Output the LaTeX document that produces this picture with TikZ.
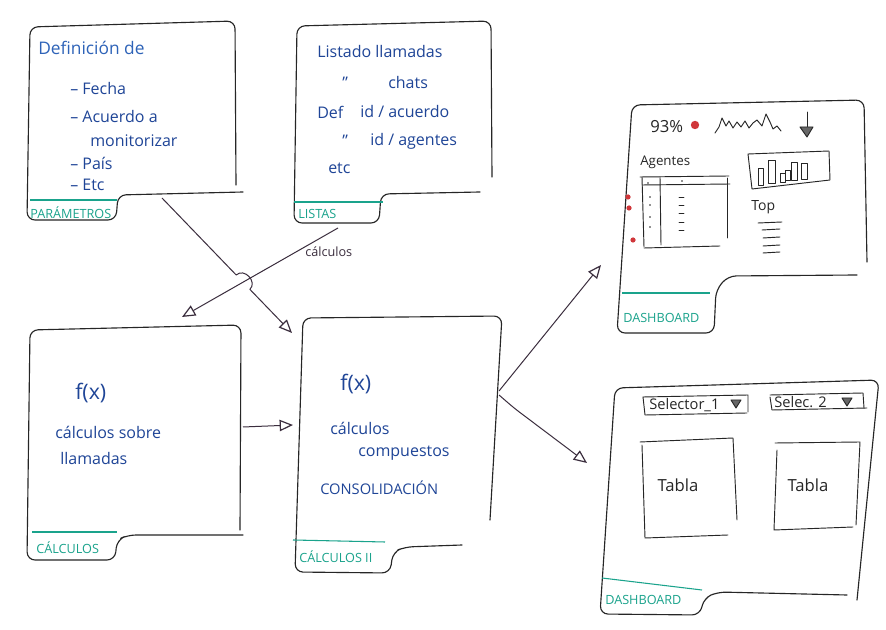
\documentclass[tikz,border=0pt]{standalone}
\usepackage{fontspec}
\setmainfont{Open Sans}
\usetikzlibrary{arrows.meta}
\definecolor{ink}{HTML}{262626}
\definecolor{blueink}{HTML}{1F4597}
\definecolor{blueinklight}{HTML}{2E63B8}
\definecolor{tealc}{HTML}{1AA38C}
\definecolor{arrowc}{HTML}{3B2E3E}
\definecolor{reddot}{HTML}{D0363A}
\begin{document}
\begin{tikzpicture}[x=0.75pt,y=-0.75pt,
  box/.style={draw=ink,line width=0.85pt,line cap=round,line join=round,rounded corners=6pt},
  tabline/.style={draw=tealc,line width=0.8pt},
  tablbl/.style={text=tealc,font=\fontsize{9.5}{11}\selectfont,anchor=west,inner sep=0pt},
  hand/.style={text=blueink,font=\fontsize{12}{14}\selectfont,anchor=west,inner sep=0pt},
  big/.style={font=\fontsize{16}{18}\selectfont},
  sk/.style={draw=ink,line width=0.7pt,line cap=round,line join=round},
  blk/.style={text=ink,anchor=west,inner sep=0pt},
  arr/.style={draw=arrowc,line width=0.75pt,line join=round,-{Triangle[open,length=10pt,width=8.5pt,line width=0.9pt]}},
  ]
\fill[white] (0,0) rectangle (886,630);
\useasboundingbox (0,0) rectangle (886,630);

% ---------- Box 1: PARAMETROS ----------
\draw[box] (236,185) -- (235,21) -- (30,27) -- (27,220) -- (116,220) -- (118,195) -- (243,192);
\draw[tabline] (30,200) -- (117,200);
\node[tablbl] (lparam) at (30,213) {PARÁMETROS};
\node[hand,font=\fontsize{13}{15}\selectfont,text=blueinklight] (pdef) at (38,48) {Definición de};
\node[hand] (pfecha) at (70,89) {– Fecha};
\node[hand] (pacu) at (70,117) {– Acuerdo a};
\node[hand] (pmon) at (90,141) {monitorizar};
\node[hand] (ppais) at (70,163) {– País};
\node[hand] (petc) at (70,185) {– Etc};

% ---------- Box 2: LISTAS ----------
\draw[box] (492,177) -- (491,21) -- (297,26) -- (294,223) -- (379,223) -- (381,194) -- (480,192);
\draw[tabline] (294,202) -- (383,202);
\node[tablbl] (llistas) at (298,214) {LISTAS};
\node[hand] (l1) at (317,52) {Listado llamadas};
\node[hand] (l2a) at (342,83) {”};
\node[hand] (l2b) at (388,83) {chats};
\node[hand] (l3a) at (317,112) {Def};
\node[hand] (l3b) at (360,112) {id / acuerdo};
\node[hand] (l4a) at (342,141) {”};
\node[hand] (l4b) at (370,141) {id / agentes};
\node[hand] (l5) at (328,168) {etc};

% ---------- Box 3: DASHBOARD 1 ----------
\draw[box] (867,262) -- (864,100) -- (632,105) -- (617,333) -- (714,333) -- (716,290) -- (728,276) -- (857,275);
\draw[tabline] (622,293) -- (710,293);
\node[tablbl] (ldash1) at (623,318) {DASHBOARD};
\node[blk,font=\fontsize{12.5}{14}\selectfont] (kpi) at (650,127) {93\%};
\fill[reddot] (695,125) circle (4.2);
\draw[sk] (715,133) -- (719,127) -- (722,118) -- (726,126) -- (729,121) -- (733,128) -- (737,122) -- (741,127) -- (745,121) -- (749,128) -- (753,123) -- (757,120) -- (762,126) -- (766,114) -- (770,122) -- (773,129) -- (777,126) -- (781,131);
\draw[sk] (807,112) -- (807,130);
\draw[sk,fill=ink!70] (800,127) -- (813,127) -- (807,137) -- cycle;
\node[blk,font=\fontsize{10}{12}\selectfont] (agentes) at (640,162) {Agentes};
\draw[sk] (640,177) -- (729,176);
\draw[sk] (642,185) -- (730,184);
\draw[sk] (642,177) -- (644,247);
\draw[sk] (660,177) -- (661,245);
\draw[sk] (727,178) -- (727,238);
\draw[sk] (644,248) -- (720,246);
\foreach \yy in {197,205,217,227} {\fill[ink] (650,\yy) circle (0.9);}
\fill[ink] (648,183) circle (0.9);
\fill[ink] (682,181) circle (0.9);
\foreach \yy in {197,205,213,222,230} {\draw[sk] (679,\yy) -- (684,\yy);}
\fill[reddot] (628,197) circle (2.6);
\fill[reddot] (629,208) circle (2.6);
\fill[reddot] (633,240) circle (2.6);
\draw[sk] (748,154) -- (829,151) -- (830,180) -- (752,189) -- cycle;
\draw[sk] (758,168) rectangle (763,185);
\draw[sk] (768,160) rectangle (775,183);
\draw[sk] (780,173) rectangle (785,182);
\draw[sk] (785,170) rectangle (790,180);
\draw[sk] (791,162) rectangle (797,180);
\draw[sk] (801,163) rectangle (807,179);
\node[blk,font=\fontsize{10.5}{12}\selectfont] (top) at (751,207) {Top};
\draw[sk] (758,223) -- (782,222);
\draw[sk] (762,230) -- (780,229);
\draw[sk] (763,238) -- (780,237);
\draw[sk] (763,246) -- (780,245);
\draw[sk] (763,253) -- (780,252);

% ---------- Box 4: DASHBOARD 2 ----------
\draw[box] (857,600) -- (879,380) -- (615,388) -- (600,614) -- (700,615) -- (704,598) -- (718,592) -- (847,595);
\draw[tabline] (602,578) -- (702,590);
\node[tablbl] (ldash2) at (605,600) {DASHBOARD};
\draw[sk] (643,397) -- (748,395) -- (748,412);
\draw[sk] (643,397) -- (645,415) -- (747,413);
\node[blk,font=\fontsize{11}{13}\selectfont] (sel1) at (649,405) {Selector\_1};
\draw[sk,fill=ink!70] (731,400) -- (741,400) -- (736,408) -- cycle;
\draw[sk] (770,395) -- (863,393) -- (864,408);
\draw[sk] (770,397) -- (772,410) -- (867,408);
\node[blk,font=\fontsize{11}{13}\selectfont] (sel2) at (774,402) {Selec. 2};
\draw[sk,fill=ink!70] (842,398) -- (852,398) -- (847,406) -- cycle;
\draw[sk] (640,442) -- (733,438) -- (737,520);
\draw[sk] (642,445) -- (645,538) -- (728,535);
\node[text=ink,font=\fontsize{12.5}{14}\selectfont,inner sep=0pt] (tab1) at (678,485) {Tabla};
\draw[sk] (775,443) -- (860,442) -- (856,525);
\draw[sk] (777,450) -- (774,530) -- (853,527);
\node[text=ink,font=\fontsize{12.5}{14}\selectfont,inner sep=0pt] (tab2) at (808,485) {Tabla};

% ---------- Box 5: CALCULOS ----------
\draw[box] (240,530) -- (241,325) -- (30,330) -- (27,560) -- (115,560) -- (117,540) -- (128,535) -- (243,535);
\draw[tabline] (32,532) -- (117,532);
\node[tablbl] (lcalc1) at (36,548) {CÁLCULOS};
\node[hand,big] (c1f) at (75,393) {f(x)};
\node[hand] (c1a) at (55,432) {cálculos sobre};
\node[hand] (c1b) at (60,459) {llamadas};

% ---------- Box 6: CALCULOS II ----------
\draw[box] (490,520) -- (502,316) -- (303,318) -- (295,572) -- (390,573) -- (393,552) -- (405,547) -- (462,545);
\draw[tabline] (293,540) -- (385,542);
\node[tablbl] (lcalc2) at (299,557) {CÁLCULOS II};
\node[hand,big] (c2f) at (340,384) {f(x)};
\node[hand] (c2a) at (330,428) {cálculos};
\node[hand] (c2b) at (358,453) {compuestos};
\node[hand,font=\fontsize{11}{13}\selectfont] (c2c) at (320,488) {CONSOLIDACIÓN};

% ---------- connectors ----------
\coordinate (a1s) at (162,198);
\coordinate (h1) at (236.2,275.0);
\coordinate (h2) at (249.9,289.4);
\coordinate (a1e) at (292,333);
\draw[arr] (a1s) -- (h1) .. controls (244.1,267.4) and (257.8,281.8) .. (h2) -- (a1e);

\coordinate (a2s) at (338,228);
\coordinate (a2e) at (182,317);
\draw[arr] (a2s) -- (a2e);
\node[blk,text=arrowc,font=\fontsize{9.5}{11}\selectfont] (lcalcarrow) at (305,252) {cálculos};

\coordinate (a3s) at (243,427);
\coordinate (a3e) at (293,425);
\draw[arr] (a3s) -- (a3e);

\coordinate (a4s) at (499,391);
\coordinate (a4e) at (601,265);
\draw[arr] (a4s) -- (a4e);

\coordinate (a5s) at (499,395);
\coordinate (a5m) at (514,408);
\coordinate (a5e) at (587,463);
\draw[arr,rounded corners=5pt] (a5s) -- (a5m) -- (a5e);
\end{tikzpicture}
\end{document}
